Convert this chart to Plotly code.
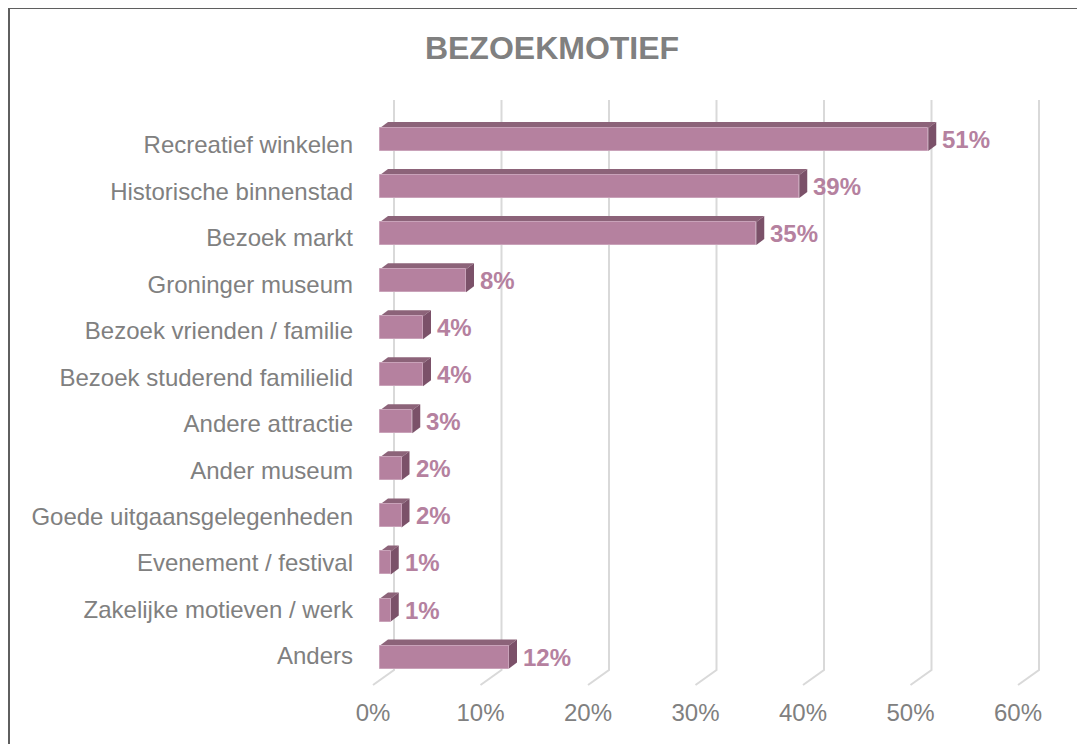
import plotly.graph_objects as go

# ---------------- data ----------------
categories = [
    "Recreatief winkelen",
    "Historische binnenstad",
    "Bezoek markt",
    "Groninger museum",
    "Bezoek vrienden / familie",
    "Bezoek studerend familielid",
    "Andere attractie",
    "Ander museum",
    "Goede uitgaansgelegenheden",
    "Evenement / festival",
    "Zakelijke motieven / werk",
    "Anders",
]
values = [51, 39, 35, 8, 4, 4, 3, 2, 2, 1, 1, 12]
tick_values = [0, 10, 20, 30, 40, 50, 60]
tick_labels = ["0%", "10%", "20%", "30%", "40%", "50%", "60%"]
title_text = "BEZOEKMOTIEF"

# ---------------- styling / layout ----------------
OFF = 8                                  # page body margin
W, H = 1085 - OFF, 744
L, R, T, B = 360 - OFF, 1065 - OFF, 90 - OFF, 696 - OFF   # plot area (figure px)
X0, XS = 380 - OFF, 10.75               # px of 0 % (bar front) and px per %
Y0, YS = 139.5 - OFF, 47.05             # px of first bar centre, px per row
LY0, LYS = 145 - OFF, 46.45             # px of first category label, px per row

FONT = "Liberation Sans, Arial, sans-serif"
TXT = "#808080"
FRONT = "#b5819f"
TOP = "#8c6379"
SIDE = "#7b5169"
GRID = "#d9d9d9"


def vx(px):
    return (px - X0) / XS


def vy(py):
    return (py - Y0) / YS


def vy2(py):
    return (py - LY0) / LYS


def ref_y(py):
    # reference-image px -> data y
    return vy(py - OFF)


DX = 8 / XS          # bar depth (x)
DY = 6 / YS          # bar depth (y)
HW = 11.5 / YS       # half bar height
BACK = 14 / XS       # back wall offset from bar front
FLOOR = -7 / XS      # front floor edge offset

n = len(categories)
idx = list(range(n))

fig = go.Figure()
fig.add_trace(go.Bar(
    x=values, y=idx, orientation="h", width=2 * HW,
    marker=dict(color=FRONT, line=dict(color="#c9a2b9", width=1)),
    hoverinfo="skip", showlegend=False, cliponaxis=False,
))

shapes = []
# back-wall gridlines + floor diagonals
for k in tick_values:
    bx = k + BACK
    fx = k + FLOOR
    shapes.append(dict(
        type="path", xref="x", yref="y", layer="below",
        path=f"M{bx},{ref_y(100)} L{bx},{ref_y(670)} L{fx},{ref_y(685)}",
        line=dict(color=GRID, width=2),
    ))
# 3D faces of bars
for i, v in zip(idx, values):
    y1 = i - HW
    y2 = i + HW
    shapes.append(dict(
        type="path", xref="x", yref="y", layer="below",
        path=f"M0,{y1} L{v},{y1} L{v + DX},{y1 - DY} L{DX},{y1 - DY} Z",
        fillcolor=TOP, line=dict(width=0),
    ))
    shapes.append(dict(
        type="path", xref="x", yref="y", layer="below",
        path=f"M{v},{y1} L{v + DX},{y1 - DY} L{v + DX},{y2 - DY} L{v},{y2} Z",
        fillcolor=SIDE, line=dict(width=0),
    ))

# outer chart border (top and left)
px2paper_x = lambda p: (p - OFF - L) / (R - L)
px2paper_y = lambda p: (B - (p - OFF)) / (B - T)
shapes.append(dict(type="line", xref="paper", yref="paper",
                   x0=px2paper_x(8), x1=px2paper_x(1100), y0=px2paper_y(8), y1=px2paper_y(8),
                   line=dict(color="#5f5f5f", width=2)))
shapes.append(dict(type="line", xref="paper", yref="paper",
                   x0=px2paper_x(9), x1=px2paper_x(9), y0=px2paper_y(8), y1=px2paper_y(760),
                   line=dict(color="#5f5f5f", width=2)))

annotations = []
for i, v in zip(idx, values):
    annotations.append(dict(
        x=v, y=i, xref="x", yref="y", text=f"<b>{v}%</b>",
        showarrow=False, xanchor="left", yanchor="middle", xshift=12,
        font=dict(family=FONT, size=24, color=FRONT),
    ))

# invisible anchor traces for the label axes
fig.add_trace(go.Scatter(x=[tick_values[0]], y=[0], xaxis="x2", yaxis="y", mode="markers",
                         marker=dict(opacity=0), hoverinfo="skip", showlegend=False))
fig.add_trace(go.Scatter(x=[0], y=[idx[0]], xaxis="x", yaxis="y2", mode="markers",
                         marker=dict(opacity=0), hoverinfo="skip", showlegend=False))

fig.update_layout(
    width=W, height=H,
    margin=dict(l=L, r=W - R, t=T, b=H - B),
    paper_bgcolor="white", plot_bgcolor="white",
    title=dict(text=f"<b>{title_text}</b>", x=(552 - OFF) / W, y=1 - (48 - OFF) / H,
               xanchor="center", yanchor="middle",
               font=dict(family=FONT, size=32, color=TXT)),
    xaxis=dict(range=[vx(L), vx(R)], showgrid=False, zeroline=False,
               showticklabels=False, showline=False, fixedrange=True),
    xaxis2=dict(range=[vx(L) - FLOOR, vx(R) - FLOOR], overlaying="x", anchor="y",
                side="bottom", showgrid=False, zeroline=False, showline=False,
                tickvals=tick_values, ticktext=tick_labels,
                tickfont=dict(family=FONT, size=24, color=TXT)),
    yaxis=dict(range=[vy(B), vy(T)], showgrid=False, zeroline=False, showline=False,
               showticklabels=False),
    yaxis2=dict(range=[vy2(B), vy2(T)], overlaying="y", anchor="x", side="left",
                tickvals=idx, ticktext=categories,
                showgrid=False, zeroline=False, showline=False,
                ticklabelstandoff=6,
                tickfont=dict(family=FONT, size=24, color=TXT)),
    shapes=shapes, annotations=annotations, bargap=0,
)

fig.write_html("out.html")
